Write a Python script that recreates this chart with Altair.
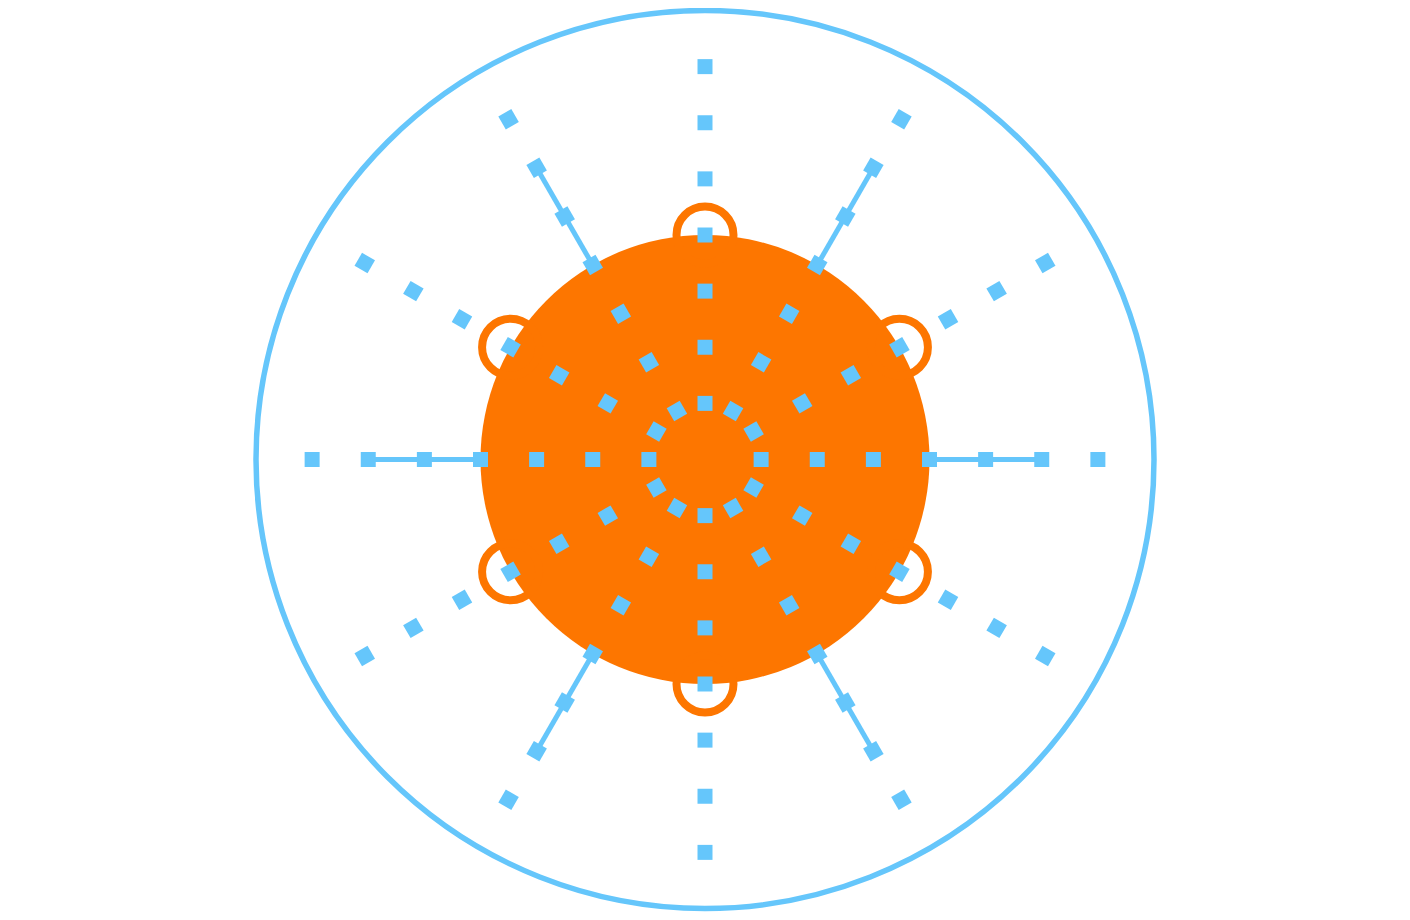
import altair as alt
import pandas as pd

# --- data (units: one grid step along a spoke) ---
spoke_angles = [0, 30, 60, 90, 120, 150, 180, 210, 240, 270, 300, 330]
spoke_steps = [1, 2, 3, 4, 5, 6, 7]
segment_angles = [0, 60, 120, 180, 240, 300]
segment_from = [4, 4, 4, 4, 4, 4]
segment_to = [6, 6, 6, 6, 6, 6]
ring_angles = [30, 90, 150, 210, 270, 330]
ring_radius = [4, 4, 4, 4, 4, 4]
disk_radius = [4]
outer_radius = [8]

BLUE = "#65c6fb"
ORANGE = "#fd7600"

dots = pd.DataFrame([{"a": a, "r": r} for a in spoke_angles for r in spoke_steps])
segs = pd.DataFrame({"a": segment_angles, "r1": segment_from, "r2": segment_to})
rings = pd.DataFrame({"a": ring_angles, "r": ring_radius})
disk = pd.DataFrame({"cx": [0], "cy": [0], "rad": disk_radius})
outer = pd.DataFrame({"cx": [0], "cy": [0], "rad": outer_radius})

W, H = 1394, 904
UNIT = 56.125
xdom = [-697 / UNIT, 697 / UNIT]
ydom = [-(H - 451.5) / UNIT, 451.5 / UNIT]

xs = alt.Scale(domain=xdom, nice=False, zero=False)
ys = alt.Scale(domain=ydom, nice=False, zero=False)
size_scale = alt.Scale(type="pow", exponent=2, domain=[0, 8], range=[0, 806404])

outer_layer = alt.Chart(outer).mark_point(
    shape="circle", filled=False, stroke=BLUE, strokeWidth=5.5, opacity=1
).encode(
    x=alt.X("cx:Q", scale=xs, axis=None),
    y=alt.Y("cy:Q", scale=ys, axis=None),
    size=alt.Size("rad:Q", scale=size_scale, legend=None),
)

disk_layer = alt.Chart(disk).mark_point(
    shape="circle", filled=True, fill=ORANGE, strokeWidth=0, opacity=1
).encode(
    x=alt.X("cx:Q", scale=xs, axis=None),
    y=alt.Y("cy:Q", scale=ys, axis=None),
    size=alt.Size("rad:Q", scale=size_scale, legend=None),
)

ring_layer = alt.Chart(rings).transform_calculate(
    px="datum.r * cos(datum.a * PI / 180)",
    py="datum.r * sin(datum.a * PI / 180)",
).mark_point(
    shape="circle", filled=False, stroke=ORANGE, strokeWidth=8, size=3250, opacity=1
).encode(
    x=alt.X("px:Q", scale=xs, axis=None),
    y=alt.Y("py:Q", scale=ys, axis=None),
)

seg_layer = alt.Chart(segs).transform_calculate(
    x1="datum.r1 * cos(datum.a * PI / 180)",
    y1="datum.r1 * sin(datum.a * PI / 180)",
    x2="datum.r2 * cos(datum.a * PI / 180)",
    y2="datum.r2 * sin(datum.a * PI / 180)",
).mark_rule(color=BLUE, strokeWidth=5).encode(
    x=alt.X("x1:Q", scale=xs, axis=None),
    y=alt.Y("y1:Q", scale=ys, axis=None),
    x2="x2:Q",
    y2="y2:Q",
)

dot_layer = alt.Chart(dots).transform_calculate(
    px="datum.r * cos(datum.a * PI / 180)",
    py="datum.r * sin(datum.a * PI / 180)",
    rot="(360 - datum.a) % 360",
).mark_square(color=BLUE, size=225, opacity=1, strokeWidth=0).encode(
    x=alt.X("px:Q", scale=xs, axis=None),
    y=alt.Y("py:Q", scale=ys, axis=None),
    angle=alt.Angle("rot:Q", scale=None),
)

chart = alt.layer(
    outer_layer, disk_layer, ring_layer, seg_layer, dot_layer
).properties(
    width=W, height=H, padding=0, autosize=alt.AutoSizeParams(type="none"),
    background="white",
).configure_view(stroke="transparent", strokeWidth=0)

chart.save("out.html", embed_options={"renderer": "svg", "actions": False})
